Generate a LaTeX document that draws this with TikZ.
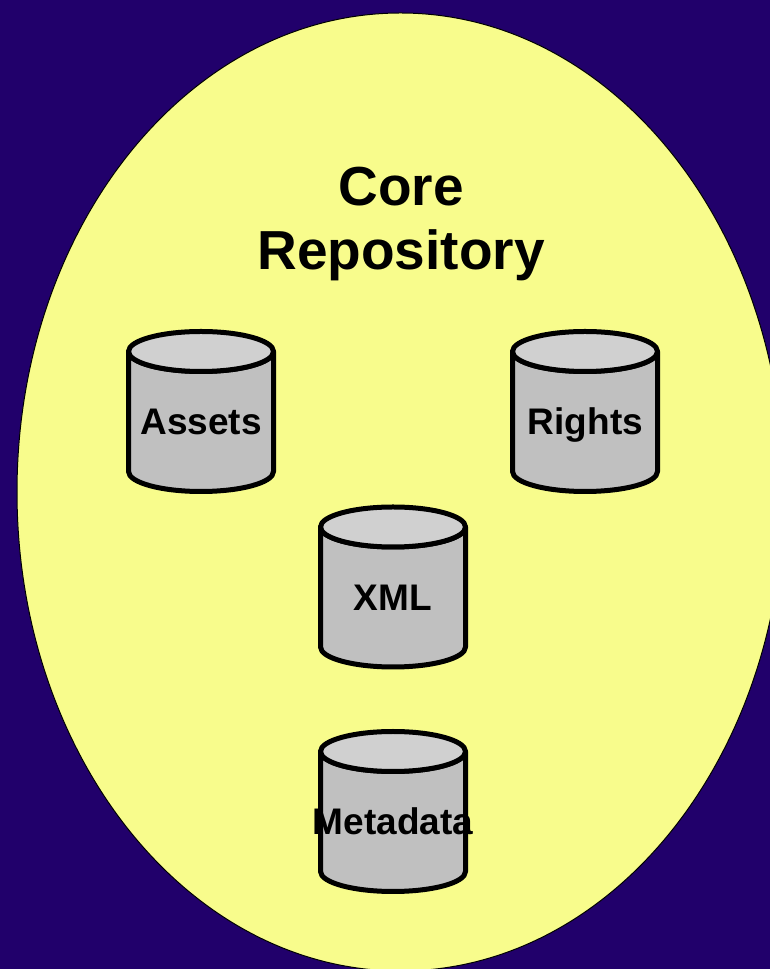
\documentclass[tikz,border=0pt]{standalone}
\usepackage{fontspec}
\setmainfont{Liberation Sans}
\definecolor{bgc}{HTML}{21006B}
\definecolor{ell}{HTML}{F8FC8C}
\definecolor{cylb}{HTML}{C0C0C0}
\definecolor{cylt}{HTML}{D0D0D0}
\tikzset{
  lbl/.style={font=\bfseries\fontsize{37}{37}\selectfont,text=black,inner sep=0pt,anchor=base},
  ttl/.style={font=\bfseries\fontsize{55}{55}\selectfont,text=black,inner sep=0pt,anchor=base},
  cyl/.style={draw=black,line width=5pt,line join=round},
}
\newcommand{\cylinder}[2]{%
  \begin{scope}[shift={(#1,#2)}]
  \path[cyl,fill=cylb] (0,-20) -- (0,-140) arc[start angle=180,end angle=360,x radius=72.5,y radius=20] -- (145,-20) arc[start angle=0,end angle=-180,x radius=72.5,y radius=20] -- cycle;
  \path[cyl,fill=cylt] (72.5,-20) ellipse[x radius=72.5,y radius=20];
  \end{scope}}
\begin{document}
\begin{tikzpicture}[x=1pt,y=1pt]
\useasboundingbox (0,0) rectangle (770,969);
\fill[bgc] (0,0) rectangle (770,969);
\begin{scope}
\clip (0,0) rectangle (770,969);
\draw[black,line width=1pt,fill=ell] (400.5,477) ellipse[x radius=383.5,y radius=479];
\end{scope}
\cylinder{128.5}{637.5}
\cylinder{512.5}{637.5}
\cylinder{320.5}{462}
\cylinder{320.5}{237.5}
\node[ttl] (t1) at (401,763) {Core};
\node[ttl] (t2) at (401,699) {Repository};
\node[lbl] (a) at (201,534) {Assets};
\node[lbl] (r) at (585.5,534) {Rights};
\node[lbl] (x) at (393,358) {XML};
\node[lbl] (m) at (393,134) {Metadata};
\end{tikzpicture}
\end{document}
